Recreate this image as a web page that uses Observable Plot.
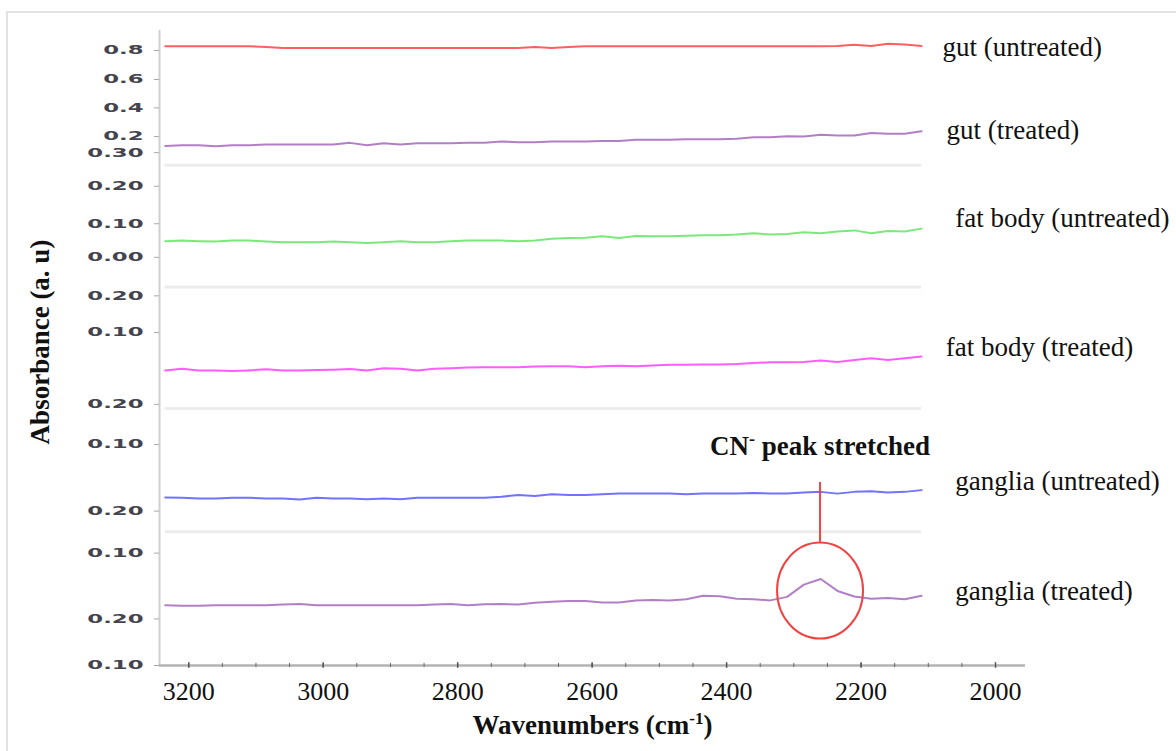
<!DOCTYPE html>
<html>
<head>
<meta charset="utf-8">
<script src="https://cdn.jsdelivr.net/npm/d3@7"></script>
<script src="https://cdn.jsdelivr.net/npm/@observablehq/plot@0.6"></script>
<style>
html, body { margin: 0; padding: 0; background: #fff; overflow: hidden; }
#wrap { position: relative; width: 1176px; height: 751px; }
#border { position: absolute; left: 6px; top: 11px; width: 1400px; height: 1000px; border: 2px solid #e2e2e2; box-sizing: border-box; }
#chart { position: absolute; left: 0; top: 0; }
</style>
</head>
<body>
<div id="wrap"><div id="border"></div><div id="chart"></div></div>
<script>
// ---- data (stacked / offset absorbance) ----
const wavenumbers = [3235,3210,3185,3160,3135,3110,3085,3060,3035,3010,2985,2960,2935,2910,2885,2860,2835,2810,2785,2760,2735,2710,2685,2660,2635,2610,2585,2560,2535,2510,2485,2460,2435,2410,2385,2360,2335,2310,2285,2260,2235,2210,2185,2160,2135,2110];

const gutUntreated = [1.769,1.769,1.769,1.769,1.769,1.769,1.767,1.764,1.764,1.764,1.764,1.764,1.764,1.764,1.764,1.764,1.764,1.764,1.764,1.764,1.764,1.764,1.767,1.764,1.767,1.769,1.769,1.769,1.769,1.769,1.769,1.769,1.769,1.769,1.769,1.769,1.769,1.769,1.769,1.769,1.770,1.773,1.770,1.776,1.774,1.770];
const gutTreated = [1.484,1.486,1.486,1.483,1.486,1.486,1.488,1.488,1.488,1.488,1.488,1.493,1.486,1.492,1.488,1.492,1.492,1.492,1.493,1.493,1.497,1.495,1.495,1.497,1.497,1.497,1.498,1.498,1.502,1.502,1.502,1.503,1.503,1.503,1.505,1.509,1.509,1.512,1.511,1.516,1.514,1.514,1.521,1.519,1.519,1.526];
const fatUntreated = [1.212,1.214,1.212,1.211,1.214,1.214,1.211,1.209,1.209,1.209,1.211,1.209,1.207,1.209,1.212,1.209,1.209,1.212,1.214,1.214,1.214,1.212,1.214,1.219,1.221,1.222,1.226,1.221,1.227,1.226,1.226,1.228,1.229,1.229,1.231,1.235,1.231,1.233,1.238,1.235,1.240,1.243,1.235,1.241,1.240,1.248];
const fatTreated = [0.843,0.848,0.843,0.843,0.841,0.843,0.846,0.843,0.843,0.844,0.845,0.847,0.843,0.849,0.848,0.843,0.848,0.849,0.851,0.852,0.852,0.852,0.854,0.855,0.855,0.852,0.855,0.856,0.855,0.857,0.859,0.859,0.860,0.860,0.861,0.864,0.866,0.866,0.867,0.871,0.867,0.873,0.878,0.873,0.878,0.883];
const gangliaUntreated = [0.480,0.479,0.477,0.477,0.479,0.479,0.477,0.477,0.474,0.479,0.477,0.477,0.475,0.477,0.475,0.479,0.479,0.479,0.479,0.479,0.482,0.487,0.484,0.489,0.487,0.487,0.489,0.491,0.491,0.491,0.491,0.489,0.491,0.491,0.491,0.493,0.491,0.491,0.494,0.496,0.491,0.496,0.498,0.494,0.496,0.501];
const gangliaTreated = [0.172,0.171,0.171,0.172,0.172,0.172,0.172,0.174,0.176,0.172,0.172,0.172,0.172,0.172,0.172,0.172,0.174,0.176,0.172,0.175,0.176,0.174,0.179,0.182,0.184,0.184,0.180,0.180,0.186,0.187,0.186,0.189,0.199,0.198,0.191,0.189,0.186,0.196,0.231,0.247,0.213,0.197,0.191,0.193,0.189,0.199];

const seriesNames = ["gut (untreated)","gut (treated)","fat body (untreated)","fat body (treated)","ganglia (untreated)","ganglia (treated)"];
const seriesValues = [gutUntreated, gutTreated, fatUntreated, fatTreated, gangliaUntreated, gangliaTreated];
const labelWn = [2079, 2073, 2060, 2074, 2060, 2060];
const labelY = [1.766, 1.529, 1.277, 0.909, 0.526, 0.211];

const yTickValues = [1.757,1.674,1.593,1.511,1.465,1.369,1.262,1.166,1.056,0.951,0.746,0.631,0.441,0.321,0.133,0];
const yTickLabels = ["0.8","0.6","0.4","0.2","0.30","0.20","0.10","0.00","0.20","0.10","0.20","0.10","0.20","0.10","0.20","0.10"];
const xTickValues = [3200,3000,2800,2600,2400,2200,2000];
const separators = [1.429, 1.081, 0.734, 0.382];

const xTitle = "Wavenumbers (cm-1)";
const yTitle = "Absorbance (a. u)";
const cnLabel = "CN- peak stretched";
const cnWn = 2261, cnTextY = 0.600, cnRuleTop = 0.523, cnRuleBottom = 0.352, cnCircleY = 0.214;

// ---- styles ----
const seriesColors = ["#ff5f5f","#b27fc6","#7be87b","#ff5cff","#7272ff","#b27fc6"];
const xDomain = [3243.5, 1955.4];

const yTickMap = new Map(yTickValues.map((v, i) => [v, yTickLabels[i]]));
const minorTicks = d3.range(2000, 3201, 50);

const ellipse = {
  draw(ctx) {
    const a = 43, b = 48, k = 0.5523;
    ctx.moveTo(a, 0);
    ctx.bezierCurveTo(a, k*b, k*a, b, 0, b);
    ctx.bezierCurveTo(-k*a, b, -a, k*b, -a, 0);
    ctx.bezierCurveTo(-a, -k*b, -k*a, -b, 0, -b);
    ctx.bezierCurveTo(k*a, -b, a, -k*b, a, 0);
    ctx.closePath();
  }
};

const lineMarks = seriesValues.map((vals, s) =>
  Plot.line(wavenumbers.map((w, i) => ({wn: w, v: vals[i]})), {x: "wn", y: "v", stroke: seriesColors[s], strokeWidth: 2})
);
const labelRows = seriesNames.map((n, i) => ({name: n, wn: labelWn[i], y: labelY[i]}));

const plot = Plot.plot({
  width: 1176, height: 751,
  marginLeft: 159, marginRight: 151, marginTop: 30, marginBottom: 86,
  style: {background: "transparent", fontFamily: "Liberation Serif", overflow: "visible"},
  x: {domain: xDomain},
  y: {domain: [0, 1.814]},
  marks: [
    Plot.ruleY(separators, {x1: wavenumbers[0], x2: wavenumbers[wavenumbers.length - 1], stroke: "#ececec", strokeWidth: 3}),
    Plot.ruleX([xDomain[0]], {stroke: "#cfcfcf", strokeWidth: 2}),
    Plot.ruleY([0], {stroke: "#b3b3b3", strokeWidth: 2.5}),
    Plot.ruleX(minorTicks, {y1: -0.006, y2: 0.006, stroke: "#666", strokeWidth: 1}),
    Plot.ruleX(xTickValues, {y1: -0.008, y2: 0.008, stroke: "#555", strokeWidth: 1.5}),
    Plot.axisY(yTickValues, {anchor: "left", tickSize: 5, tickPadding: 11, tickFormat: d => yTickMap.get(d),
      stroke: "#a8a8a8", fill: "#44444f", fontSize: 12, fontFamily: "DejaVu Sans", fontWeight: "bold", label: null}),
    Plot.axisX(xTickValues, {anchor: "bottom", tickSize: 0, tickPadding: 16, tickFormat: d => String(d),
      fill: "#111", fontSize: 26, fontFamily: "Liberation Serif", label: null}),
    ...lineMarks,
    Plot.text(labelRows, {x: "wn", y: "y", text: "name", textAnchor: "start", fontSize: 27, fontFamily: "Liberation Serif", fill: "#111"}),
    Plot.text([xTitle], {text: d => d, frameAnchor: "bottom", dy: 68, lineAnchor: "bottom", fontSize: 27, fontWeight: "bold", fontFamily: "Liberation Serif", fill: "#111"}),
    Plot.text([yTitle], {text: d => d, frameAnchor: "left", textAnchor: "middle", rotate: -90, dx: -119, dy: -6, fontSize: 27, fontWeight: "bold", fontFamily: "Liberation Serif", fill: "#111"}),
    Plot.text([cnLabel], {text: d => d, x: () => cnWn, y: () => cnTextY, lineAnchor: "bottom", fontSize: 27, fontWeight: "bold", fontFamily: "Liberation Serif", fill: "#111"}),
    Plot.ruleX([cnWn], {y1: cnRuleBottom, y2: cnRuleTop, stroke: "#f04444", strokeWidth: 2}),
    Plot.dot([cnWn], {x: d => d, y: () => cnCircleY, r: 45, symbol: ellipse, stroke: "#f04444", fill: "none", strokeWidth: 2})
  ]
});

document.getElementById("chart").appendChild(plot);

// stretch the y tick labels horizontally (wide tick font of the original)
plot.querySelectorAll('g[aria-label="y-axis tick label"] text').forEach(t => {
  const old = t.getAttribute("transform") || "";
  const before = t.getBoundingClientRect().right;
  t.setAttribute("transform", old + " scale(1.9,1)");
  const after = t.getBoundingClientRect().right;
  t.setAttribute("transform", `translate(${before - after},0) ` + old + " scale(1.9,1)");
});

// superscripts
plot.querySelectorAll("text").forEach(t => {
  if (t.textContent === xTitle) {
    t.innerHTML = 'Wavenumbers (cm<tspan dy="-10" font-size="17">-1</tspan><tspan dy="10">)</tspan>';
  } else if (t.textContent === cnLabel) {
    t.innerHTML = 'CN<tspan dy="-10" font-size="18">-</tspan><tspan dy="10"> peak stretched</tspan>';
  }
});
</script>
</body>
</html>
